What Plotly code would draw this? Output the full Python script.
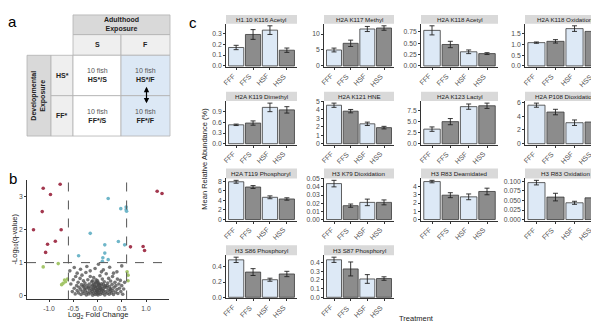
import plotly.graph_objects as go

W, H = 599, 324
FONT = "Arial, 'Liberation Sans', sans-serif"

# ---------------- data: panel c ----------------
treatments = ["FFF", "FFS", "HSF", "HSS"]
ptm_titles = [
    "H1.10 K116 Acetyl", "H2A K117 Methyl", "H2A K118 Acetyl", "H2A K118 Oxidation",
    "H2A K119 Dimethyl", "H2A K121 HNE", "H2A K123 Lactyl", "H2A P108 Dioxidation",
    "H2A T119 Phosphoryl", "H3 K79 Dioxidation", "H3 R83 Deamidated", "H3 R83 Oxidation",
    "H3 S86 Phosphoryl", "H3 S87 Phosphoryl",
]
mean_abund = [
    [0.17, 0.29, 0.33, 0.145],
    [5.0, 7.1, 11.6, 11.9],
    [0.78, 0.47, 0.31, 0.27],
    [1.08, 1.14, 1.73, 1.60],
    [0.53, 0.58, 1.02, 0.95],
    [4.55, 3.85, 2.35, 1.90],
    [3.3, 5.0, 8.4, 8.6],
    [5.6, 4.6, 3.05, 3.15],
    [7.9, 6.8, 4.65, 4.3],
    [0.044, 0.017, 0.021, 0.021],
    [4.6, 2.95, 2.75, 3.4],
    [0.097, 0.059, 0.044, 0.057],
    [0.49, 0.33, 0.23, 0.305],
    [0.43, 0.325, 0.21, 0.215],
]
sem_abund = [
    [0.02, 0.045, 0.04, 0.02],
    [0.6, 1.0, 0.8, 0.7],
    [0.10, 0.07, 0.04, 0.02],
    [0.03, 0.08, 0.13, 0.11],
    [0.02, 0.06, 0.12, 0.09],
    [0.25, 0.20, 0.20, 0.15],
    [0.5, 0.7, 0.6, 0.6],
    [0.3, 0.4, 0.4, 0.35],
    [0.3, 0.3, 0.3, 0.25],
    [0.004, 0.002, 0.004, 0.003],
    [0.15, 0.3, 0.35, 0.4],
    [0.006, 0.010, 0.004, 0.006],
    [0.035, 0.045, 0.02, 0.035],
    [0.03, 0.08, 0.05, 0.02],
]
ytick_labels = [
    ["0.0", "0.1", "0.2", "0.3"],
    ["0", "5", "10"],
    ["0.00", "0.25", "0.50", "0.75"],
    ["0.0", "0.5", "1.0", "1.5"],
    ["0.0", "0.3", "0.6", "0.9", "1.2"],
    ["0", "1", "2", "3", "4", "5"],
    ["0.0", "2.5", "5.0", "7.5"],
    ["0", "2", "4", "6"],
    ["0", "2", "4", "6", "8"],
    ["0.00", "0.01", "0.02", "0.03", "0.04", "0.05"],
    ["0", "1", "2", "3", "4", "5"],
    ["0.000", "0.025", "0.050", "0.075", "0.100"],
    ["0.0", "0.2", "0.4"],
    ["0.0", "0.1", "0.2", "0.3", "0.4"],
]

# ---------------- data: panel b (volcano) ----------------
red_x = [-1.32, -1.12, -0.77, -0.97, -1.14, -0.75, -0.87, -1.03, -1.07, 1.23, 1.33, 0.68, 0.94, 0.97]
red_y = [2.00, 3.26, 3.38, 3.07, 2.55, 2.00, 1.65, 1.56, 1.31, 3.17, 3.10, 1.48, 1.49, 1.37]
teal_x = [0.22, 0.48, 0.59, 0.59, 0.60, -0.15, 0.43, 0.56, 0.15, -0.39, 0.15, 0.11, 0.22, 0.10]
teal_y = [2.95, 2.64, 2.69, 2.61, 2.56, 1.89, 1.64, 1.54, 1.54, 1.21, 1.29, 1.15, 1.09, 1.04]
green_x = [-1.12, -0.81, -0.68, -0.66, -0.71, -0.74, -0.62, 0.63, 0.63, 0.61]
green_y = [0.87, 0.97, 0.47, 0.42, 0.37, 0.33, 0.50, 0.62, 0.45, 0.72]
gray_x = [
    -0.55, -0.52, -0.50, -0.48, -0.46, -0.45, -0.43, -0.42, -0.40, -0.39, -0.38, -0.36, -0.35, -0.34,
    -0.33, -0.32, -0.31, -0.30, -0.29, -0.28, -0.27, -0.26, -0.25, -0.24, -0.23, -0.22, -0.21, -0.20,
    -0.19, -0.18, -0.17, -0.16, -0.15, -0.14, -0.13, -0.12, -0.11, -0.10, -0.10, -0.09, -0.08, -0.08,
    -0.07, -0.06, -0.05, -0.05, -0.04, -0.03, -0.03, -0.02, -0.01, -0.01, 0.00, 0.00, 0.01, 0.01,
    0.02, 0.03, 0.03, 0.04, 0.05, 0.05, 0.06, 0.07, 0.08, 0.08, 0.09, 0.10, 0.11, 0.12, 0.13, 0.14,
    0.15, 0.16, 0.17, 0.18, 0.19, 0.20, 0.21, 0.22, 0.23, 0.24, 0.25, 0.26, 0.27, 0.28, 0.29, 0.30,
    0.31, 0.32, 0.33, 0.34, 0.36, 0.37, 0.38, 0.40, 0.41, 0.42, 0.44, 0.45, 0.47, 0.48, 0.50, 0.52,
    0.54, 0.56, -0.57, -0.48, -0.35, -0.22, -0.05, 0.02, 0.12, 0.25, 0.40, 0.50, -0.42, 0.33, 0.08,
    -0.15, -0.06, 0.04, -0.02, 0.06, -0.12, 0.10, -0.18, 0.15, -0.08, 0.02, -0.24, 0.20, -0.28, 0.26,
    0.00, -0.10, 0.12, -0.03,
]
gray_y = [
    0.35, 0.12, 0.48, 0.22, 0.05, 0.58, 0.30, 0.15, 0.40, 0.08, 0.25, 0.52, 0.18, 0.03,
    0.33, 0.62, 0.12, 0.27, 0.45, 0.06, 0.20, 0.38, 0.14, 0.70, 0.02, 0.30, 0.10, 0.48,
    0.22, 0.05, 0.35, 0.16, 0.58, 0.08, 0.27, 0.42, 0.12, 0.01, 0.32, 0.20, 0.55, 0.07,
    0.25, 0.15, 0.38, 0.03, 0.22, 0.10, 0.48, 0.30, 0.05, 0.18, 0.26, 0.12, 0.40, 0.02,
    0.20, 0.08, 0.33, 0.15, 0.60, 0.24, 0.04, 0.18, 0.36, 0.10, 0.28, 0.50, 0.06, 0.21, 0.14, 0.42,
    0.02, 0.30, 0.11, 0.66, 0.24, 0.07, 0.38, 0.16, 0.52, 0.04, 0.27, 0.12, 0.44, 0.20, 0.08, 0.34,
    0.58, 0.15, 0.03, 0.25, 0.40, 0.10, 0.30, 0.18, 0.50, 0.06, 0.35, 0.22, 0.46, 0.12, 0.30, 0.04,
    0.20, 0.40, 0.75, 0.85, 0.80, 0.88, 0.82, 0.95, 0.78, 0.86, 0.72, 0.90, 0.68, 0.68, 0.72,
    0.75, 0.28, 0.31, 0.14, 0.22, 0.19, 0.16, 0.26, 0.26, 0.34, 0.36, 0.22, 0.30, 0.30, 0.20,
    0.45, 0.45, 0.34, 0.40,
]


def px(x):
    return x / W


def py(y):
    return 1 - y / H


fig = go.Figure()
layout = {}
shapes = []
annotations = []

# ---------------- panel a: design table ----------------
GRID = "#b3b3b3"


def cell(x0, y0, x1, y1, fill):
    shapes.append(dict(type="rect", xref="paper", yref="paper",
                       x0=px(x0), x1=px(x1), y0=py(y1), y1=py(y0),
                       fillcolor=fill, line=dict(color=GRID, width=0.8), layer="below"))


def text(x, y, s, size=7, color="#222", angle=0, xanchor="center", yanchor="middle"):
    annotations.append(dict(x=px(x), y=py(y), xref="paper", yref="paper", text=s,
                            showarrow=False, textangle=angle, xanchor=xanchor, yanchor=yanchor,
                            font=dict(family=FONT, size=size, color=color)))


DARK_HDR, LIGHT_HDR, BLUE = "#d9d9d9", "#efefef", "#dce8f5"
cell(65, 4, 162, 24, DARK_HDR)
cell(65, 24, 113, 45, LIGHT_HDR)
cell(113, 24, 162, 45, LIGHT_HDR)
cell(19, 45, 43, 127, DARK_HDR)
cell(43, 45, 65, 86, LIGHT_HDR)
cell(43, 86, 65, 127, LIGHT_HDR)
cell(65, 45, 113, 86, "white")
cell(113, 45, 162, 86, BLUE)
cell(65, 86, 113, 127, "white")
cell(113, 86, 162, 127, BLUE)

text(113.5, 14, "<b>Adulthood<br>Exposure</b>", 7)
text(89, 34.5, "<b>S</b>", 7)
text(137.5, 34.5, "<b>F</b>", 7)
text(31, 86, "<b>Developmental<br>Exposure</b>", 7, angle=-90)
text(54, 65.5, "<b>HS*</b>", 7)
text(54, 106.5, "<b>FF*</b>", 7)
for cx, cy, lab in [(89, 65.5, "HS*/S"), (137.5, 65.5, "HS*/F"),
                    (89, 106.5, "FF*/S"), (137.5, 106.5, "FF*/F")]:
    text(cx, cy, "<span style='color:#555'>10 fish</span><br><b>%s</b>" % lab, 7)

annotations.append(dict(x=px(138.5), y=py(77), xref="paper", yref="paper",
                        ax=0, ay=18, showarrow=True, arrowside="end+start",
                        arrowhead=2, startarrowhead=2, arrowsize=0.9, startarrowsize=0.9,
                        arrowwidth=1.2, arrowcolor="black", text=""))

# panel letters
text(4, 11, "a", 15, "black")
text(5, 170, "b", 15, "black")
text(185, 12, "c", 15, "black")

# ---------------- panel b: volcano ----------------
for xs, ys, col, op in [(gray_x, gray_y, "#4a4a4a", 0.75),
                        (green_x, green_y, "#a4c66a", 1.0),
                        (teal_x, teal_y, "#6fb6c9", 1.0),
                        (red_x, red_y, "#a3384f", 1.0)]:
    fig.add_trace(go.Scatter(x=xs, y=ys, mode="markers", xaxis="x", yaxis="y",
                             marker=dict(size=3.6, color=col, opacity=op),
                             showlegend=False, hoverinfo="skip"))

axis_common = dict(showline=True, linecolor="#333", linewidth=0.8, ticks="outside",
                   ticklen=2, tickwidth=0.8, tickcolor="#333", showgrid=False,
                   zeroline=False, tickfont=dict(family=FONT, size=6.8, color="#4d4d4d"))
XR = [-1.454, 1.474]
YR = [-0.12, 3.5]
layout["xaxis"] = dict(axis_common, domain=[px(19), px(161)], anchor="y", range=XR,
                       tickvals=[-1, -0.5, 0, 0.5, 1],
                       ticktext=["-1.0", "-0.5", "0.0", "0.5", "1.0"])
layout["yaxis"] = dict(axis_common, domain=[py(293), py(172)], anchor="x", range=YR,
                       tickvals=[0, 1, 2, 3], ticktext=["0", "1", "2", "3"])
for xv in (-0.6, 0.6):
    shapes.append(dict(type="line", xref="x", yref="y", x0=xv, x1=xv, y0=YR[0], y1=YR[1],
                       line=dict(color="#555", width=1, dash="dash")))
shapes.append(dict(type="line", xref="x", yref="y", x0=XR[0], x1=XR[1], y0=1, y1=1,
                   line=dict(color="#555", width=1, dash="dash")))
text(90, 309, "Log<sub>2</sub> Fold Change", 7.5, "#222")
text(7, 232, "-Log<sub>10</sub>(q-value)", 7.5, "#222", angle=-90)

# ---------------- panel c: bar facets ----------------
cols_x = [(218, 289), (316, 386), (413, 490), (517, 597)]
rows_y = [(4, 13, 57), (82, 91.5, 136), (160, 170, 213), (238, 248, 292)]
bar_fill = ["#dde9f6", "#8c8c8c", "#dde9f6", "#8c8c8c"]

for i, title in enumerate(ptm_titles):
    r, c = divmod(i, 4)
    x0, x1 = cols_x[c]
    st, pt, pb = rows_y[r]
    k = i + 2
    m = mean_abund[i]
    e = sem_abund[i]
    fig.add_trace(go.Bar(x=treatments, y=m, xaxis="x%d" % k, yaxis="y%d" % k,
                         marker=dict(color=bar_fill, line=dict(color="#3a3a3a", width=0.8)),
                         error_y=dict(type="data", array=e, color="#222", thickness=0.9, width=2.5),
                         showlegend=False, hoverinfo="skip"))
    top = max(a + b for a, b in zip(m, e))
    labs = ytick_labels[i]
    layout["xaxis%d" % k] = dict(axis_common, domain=[px(x0), px(x1)], anchor="y%d" % k,
                                 range=[-0.6, 3.6], type="category", showticklabels=False)
    layout["yaxis%d" % k] = dict(axis_common, domain=[py(pb), py(pt)], anchor="x%d" % k,
                                 range=[-0.03 * top, 1.05 * top],
                                 tickvals=[float(v) for v in labs], ticktext=labs)
    # rotated category labels
    for t in treatments:
        annotations.append(dict(x=t, xref="x%d" % k, y=py(pb + 2.5), yref="paper", text=t,
                                showarrow=False, textangle=-45, xanchor="right", yanchor="top",
                                xshift=3, font=dict(family=FONT, size=7, color="#4d4d4d")))
    shapes.append(dict(type="rect", xref="paper", yref="paper", x0=px(x0), x1=px(x1),
                       y0=py(pt), y1=py(st), fillcolor="#d9d9d9", line=dict(width=0)))
    text((x0 + x1) / 2, (st + pt) / 2, title, 6.2, "#1a1a1a")

text(197, 150, "Mean Relative Abundance (%)", 7.5, "#222", angle=-90)
text(408, 312.5, "Treatment", 7.5, "#222")

fig.update_layout(width=W, height=H, margin=dict(l=0, r=0, t=0, b=0),
                  paper_bgcolor="white", plot_bgcolor="white", bargap=0.1,
                  shapes=shapes, annotations=annotations, showlegend=False,
                  font=dict(family=FONT), **layout)
fig.write_html("out.html")
